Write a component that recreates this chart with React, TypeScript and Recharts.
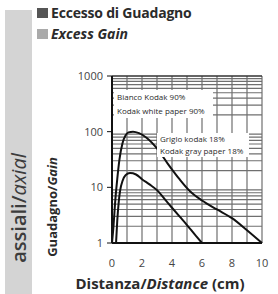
import React from "react";
import { LineChart, Line, XAxis, YAxis, ReferenceLine } from "recharts";

const FONT = "'Open Sans', sans-serif";
const INK = "#2b2b2b";
const GRID = "#6f6f6f";

// Kodak white paper 90%
const whiteX = [0, 0.1, 0.2, 0.35, 0.5, 0.7, 0.9, 1.1, 1.4, 1.8, 2.3, 3, 3.7, 4.5, 5.2, 6, 7, 8, 9, 10];
const whiteY = [1, 2, 5, 14, 32, 62, 85, 97, 100, 94, 78, 50, 27, 14, 8.5, 5.8, 4.0, 2.8, 1.7, 1];

// Kodak gray paper 18%
const grayX = [0.27, 0.35, 0.45, 0.55, 0.7, 0.9, 1.2, 1.6, 2, 2.5, 3, 3.5, 4, 4.5, 5, 5.5, 6];
const grayY = [1, 2.5, 5.5, 9, 13, 16.5, 18, 17, 14, 11.3, 8.9, 6.2, 4.3, 3.0, 2.1, 1.44, 1];

const xTicks = [0, 2, 4, 6, 8, 10];
const yTicks = [1, 10, 100, 1000];
const xGrid = [1, 2, 3, 4, 5, 6, 7, 8, 9, 10];
const decades = [1, 10, 100];
const mults = [2, 3, 4, 5, 6, 7, 8, 9];

const white = whiteX.map((x, i) => ({ x, y: whiteY[i] }));
const gray = grayX.map((x, i) => ({ x, y: grayY[i] }));
const yGrid = decades.flatMap((d) => mults.map((m) => d * m));

const boxStyle: React.CSSProperties = {
  position: "absolute",
  background: "#fff",
  fontFamily: FONT,
  fontSize: 8,
  lineHeight: "14px",
  color: INK,
  padding: "0 3px",
  whiteSpace: "nowrap",
};

export default function App() {
  return (
    <div
      style={{
        position: "fixed",
        left: 0,
        top: 0,
        width: 278,
        height: 294,
        background: "#fff",
        overflow: "hidden",
        fontFamily: FONT,
      }}
    >
      <div
        style={{
          position: "absolute",
          left: 5,
          top: 10,
          width: 27,
          height: 284,
          background: "#d4d4d4",
        }}
      />
      <div
        style={{
          position: "absolute",
          left: 18,
          top: 208,
          transform: "translate(-50%, -50%) rotate(-90deg)",
          fontSize: 20,
          color: "#3c3c3c",
          whiteSpace: "nowrap",
          fontWeight: 600,
        }}
      >
        assiali/<span style={{ fontStyle: "italic", fontWeight: 400 }}>axial</span>
      </div>

      <div style={{ position: "absolute", left: 37, top: 8, width: 11, height: 10, background: "#555" }} />
      <div style={{ position: "absolute", left: 37, top: 29, width: 11, height: 10, background: "#aaa" }} />
      <div
        style={{
          position: "absolute",
          left: 51,
          top: 3,
          fontSize: 14,
          fontWeight: 700,
          color: INK,
          whiteSpace: "nowrap",
          letterSpacing: -0.2,
        }}
      >
        Eccesso di Guadagno
      </div>
      <div
        style={{
          position: "absolute",
          left: 51,
          top: 24,
          fontSize: 14,
          fontWeight: 700,
          fontStyle: "italic",
          color: INK,
          whiteSpace: "nowrap",
        }}
      >
        Excess Gain
      </div>

      <div
        style={{
          position: "absolute",
          left: 52,
          top: 207,
          transform: "translate(-50%, -50%) rotate(-90deg)",
          fontSize: 13,
          fontWeight: 700,
          color: INK,
          whiteSpace: "nowrap",
        }}
      >
        Guadagno/<span style={{ fontStyle: "italic" }}>Gain</span>
      </div>
      <div
        style={{
          position: "absolute",
          left: 160,
          top: 283,
          transform: "translate(-50%, -50%)",
          fontSize: 15,
          fontWeight: 700,
          color: INK,
          whiteSpace: "nowrap",
        }}
      >
        Distanza/<span style={{ fontStyle: "italic" }}>Distance</span> (cm)
      </div>

      <div style={{ position: "absolute", left: 0, top: 0 }}>
        <LineChart
          width={278}
          height={294}
          margin={{ top: 76, right: 16, bottom: 31, left: 82 }}
        >
          <XAxis
            type="number"
            dataKey="x"
            domain={[0, 10]}
            ticks={xTicks}
            tickLine={false}
            tickMargin={10}
            axisLine={{ stroke: "#111", strokeWidth: 2 }}
            tick={{ fill: "#444", fontSize: 11, fontFamily: FONT }}
            height={20}
          />
          <YAxis
            scale="log"
            domain={[1, 1000]}
            ticks={yTicks}
            allowDataOverflow
            width={30}
            tickSize={5}
            tickMargin={4}
            tickLine={{ stroke: "#111" }}
            axisLine={{ stroke: "#111", strokeWidth: 2 }}
            tick={{ fill: "#444", fontSize: 11, fontFamily: FONT }}
          />
          {yGrid.map((v) => (
            <ReferenceLine key={"h" + v} y={v} stroke={GRID} strokeWidth={1.2} />
          ))}
          {xGrid.map((v) => (
            <ReferenceLine key={"v" + v} x={v} stroke={GRID} strokeWidth={1.2} />
          ))}
          <ReferenceLine y={1000} stroke="#333" strokeWidth={1.5} />
          <Line
            data={white}
            dataKey="y"
            type="monotone"
            stroke="#111"
            strokeWidth={2}
            dot={false}
            isAnimationActive={false}
          />
          <Line
            data={gray}
            dataKey="y"
            type="monotone"
            stroke="#111"
            strokeWidth={2}
            dot={false}
            isAnimationActive={false}
          />
        </LineChart>
      </div>

      <div style={{ ...boxStyle, left: 114, top: 90, width: 93 }}>
        Bianco Kodak 90%
        <br />
        Kodak white paper 90%
      </div>
      <div style={{ ...boxStyle, left: 157, top: 133, width: 86, lineHeight: "12px" }}>
        Griglo kodak 18%
        <br />
        Kodak gray paper 18%
      </div>
    </div>
  );
}
